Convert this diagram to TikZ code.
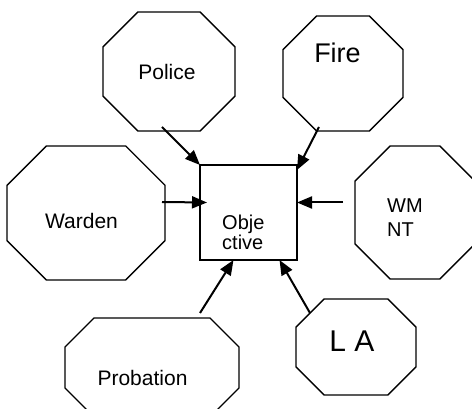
\documentclass[tikz,border=0pt]{standalone}
\usepackage{fontspec}
\setmainfont{Liberation Sans}
\usetikzlibrary{calc,arrows.meta}
\def\octagon(#1)(#2,#3)(#4:#5){%
	\pgfmathsetmacro\octcut{0.293*min(#4,#5)}
	\node[octbox, minimum width=#4pt, minimum height=#5pt] (#1) at (#2, #3) {};
	\draw[octline] ($(#1.north west)+(\octcut,0)$) -- ($(#1.north east)+(-\octcut,0)$) -- ($(#1.north east)+(0,\octcut)$) -- ($(#1.south east)+(0,-\octcut)$) -- ($(#1.south east)+(-\octcut,0)$) -- ($(#1.south west)+(\octcut,0)$) -- ($(#1.south west)+(0,-\octcut)$) -- ($(#1.north west)+(0,\octcut)$) -- cycle;}
\tikzset{
	octbox/.style={draw=none, inner sep=0pt, outer sep=0pt},
	octline/.style={line width=1.4pt, line join=miter},
	goalbox/.style={draw, line width=1.4pt, minimum width=97pt, minimum height=95pt, inner sep=0pt, outer sep=0pt},
	feed/.style={line width=2pt, -{Triangle[length=15pt,width=12pt]}},
	lbl/.style={anchor=base, inner sep=0pt},
}

\begin{document}
\begin{tikzpicture}[x=1pt, y=-1pt]
			%%%%% START %%%%%
			\clip (0, 0) rectangle (472, 409);
			\fill[white] (0, 0) rectangle (472, 409);
			
			\octagon(police)(169, 71.5)(132:119)
			\octagon(fire)(343, 73.5)(120:115)
			\octagon(warden)(86, 213)(158:134)
			\octagon(wmnt)(415, 212.5)(120:133)
			\octagon(probation)(152, 367.5)(174:99)
			\octagon(la)(356, 347)(120:96)
			
			\node[goalbox] (obj) at (248.5, 212.5) {};
			
			\draw[feed] ($(police.south)+(-7,-4)$) -- (obj.north west);
			\draw[feed] ($(fire.south)+(-24,-4)$) -- ($(obj.north east)+(0,5)$);
			\draw[feed] ($(warden.east)+(-3,-11)$) -- ($(obj.west)+(7,-10)$);
			\draw[feed] ($(wmnt.west)+(-12,-10)$) -- ($(obj.east)+(0,-10)$);
			\draw[feed] ($(probation.north)+(48,-5)$) -- ($(obj.south)+(-15,0)$);
			\draw[feed] ($(la.north west)+(14,14)$) -- ($(obj.south)+(31,0)$);
			
			\node[lbl, font=\fontsize{21}{25}\selectfont] (police-txt) at (167, 80) {Police};
			\node[lbl, font=\fontsize{27}{32}\selectfont] (fire-txt) at (337.5, 63) {Fire};
			\node[lbl, font=\fontsize{21}{25}\selectfont] (warden-txt) at (81.5, 229) {Warden};
			\node[anchor=north west, inner sep=0pt, align=left, font=\fontsize{20}{16}\selectfont] (obj-txt) at (222, 215) {Obje\\ctive};
			\node[anchor=north west, inner sep=0pt, align=left, font=\fontsize{20}{24}\selectfont] (wmnt-txt) at (387, 199) {WM\\NT};
			\node[lbl, font=\fontsize{30}{36}\selectfont] (la-txt) at (352, 351.5) {L A};
			\node[lbl, font=\fontsize{21}{25}\selectfont] (probation-txt) at (142.5, 385) {Probation};
			%%%%% END %%%%%
\end{tikzpicture}
\end{document}
